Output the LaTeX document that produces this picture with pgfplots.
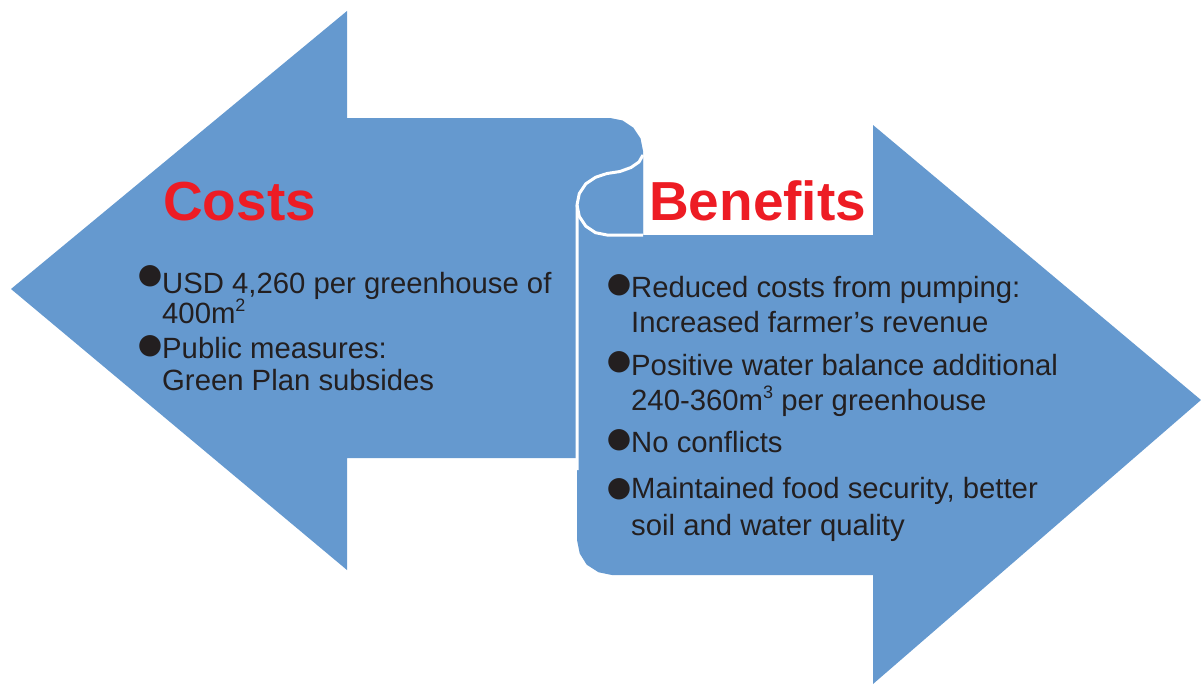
\documentclass[border=0pt]{standalone}
\usepackage{pgfplots}
\pgfplotsset{compat=1.18}
\usepackage{fontspec}
\setmainfont{Liberation Sans}
\newfontfamily\sym{DejaVu Sans}
\definecolor{ablue}{RGB}{101,153,207}
\definecolor{tred}{RGB}{237,28,36}
\definecolor{tdark}{RGB}{35,31,32}
\newcommand{\sups}[1]{\raisebox{0.75ex}{\fontsize{18bp}{18bp}\selectfont #1}}
\begin{document}
\begin{tikzpicture}
\begin{axis}[width=1201bp, height=684bp, scale only axis,
  xmin=0, xmax=1201, ymin=0, ymax=684, y dir=reverse,
  axis lines=none, clip=false]
\addplot[draw=none] coordinates {(0,0) (1201,684)};
% left arrow (Costs)
\addplot[fill=ablue, draw=none] coordinates {
 (11,289) (347,11) (347,118) (610,118) (622.6,120.5) (633.3,127.7) (640.5,138.4) (643,151)
 (643,245) (590,245) (590,458) (347,458) (347,570) } -- cycle;
% right scroll arrow (Benefits)
\addplot[fill=ablue, draw=none] coordinates {
 (577,540) (577,205) (579.3,193.5) (585.8,183.8) (595.5,177.3) (607,173.5) (620,171.5)
 (631,167.5) (639,162) (643,155) (643,235) (873,235) (873,125) (1201,400) (873,684)
 (873,575) (612,575) (598.6,572.3) (586.7,564.7) (579.7,553.4) } -- cycle;
% white scroll edges
\addplot[white, line width=3bp] coordinates {
 (577,470) (577,205) (579.3,193.5) (585.8,183.8) (595.5,177.3) (607,173.5) (620,171.5)
 (631,167.5) (639,162) (643,155) };
\addplot[white, line width=3bp] coordinates {
 (577,205) (579.3,216.5) (585.8,226.2) (595.5,232.7) (607,235) (643,235) };
% titles
\node[anchor=base west, inner sep=0, text=tred, font=\fontsize{55bp}{60bp}\selectfont\bfseries] at (axis cs:163,220) {Costs};
\node[anchor=base west, inner sep=0, text=tred, font=\fontsize{55bp}{60bp}\selectfont\bfseries] at (axis cs:649,220) {Benefits};
% texts
\begin{scope}[every node/.style={anchor=base west, inner sep=0, text=tdark, font=\fontsize{29.3bp}{36bp}\selectfont}]
\node at (axis cs:162,293) {USD 4,260 per greenhouse of};
\node at (axis cs:162,323) {400m\sups{2}};
\node at (axis cs:162,358) {Public measures:};
\node at (axis cs:162,390) {Green Plan subsides};
\node at (axis cs:631,297) {Reduced costs from pumping:};
\node at (axis cs:631,332) {Increased farmer’s revenue};
\node at (axis cs:631,375) {Positive water balance additional};
\node at (axis cs:631,410) {240-360m\sups{3} per greenhouse};
\node at (axis cs:631,452) {No conflicts};
\node at (axis cs:631,498) {Maintained food security, better};
\node at (axis cs:631,535) {soil and water quality};
\end{scope}
\begin{scope}[every node/.style={anchor=center, inner sep=0, text=tdark, font=\sym\fontsize{28bp}{28bp}\selectfont}]
\node at (axis cs:150,276) {●};
\node at (axis cs:150,346) {●};
\node at (axis cs:619,285) {●};
\node at (axis cs:619,362) {●};
\node at (axis cs:619,440) {●};
\node at (axis cs:619,489) {●};
\end{scope}
\end{axis}
\end{tikzpicture}
\end{document}
